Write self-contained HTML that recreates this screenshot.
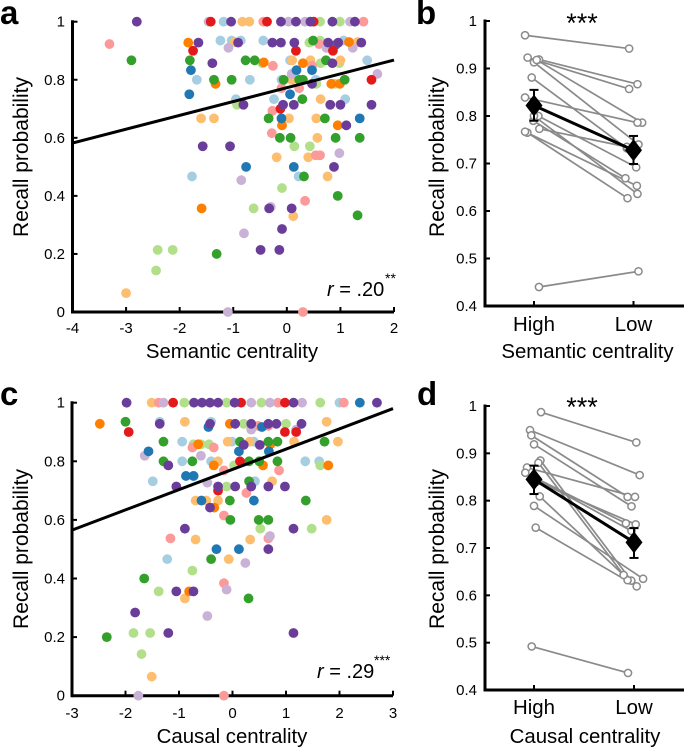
<!DOCTYPE html>
<html>
<head>
<meta charset="utf-8">
<title>Recall probability versus centrality</title>
<style>
html,body{margin:0;padding:0;background:#fff;}
svg{display:block;font-family:"Liberation Sans",Arial,sans-serif;}
</style>
</head>
<body>
<svg id="fig" xmlns="http://www.w3.org/2000/svg" width="685" height="748" viewBox="0 0 685 748">
  <text x="0" y="24" font-size="33" font-weight="bold">a</text>
  <text x="416" y="24" font-size="33" font-weight="bold">b</text>
  <text x="0" y="405" font-size="33" font-weight="bold">c</text>
  <text x="417" y="405" font-size="33" font-weight="bold">d</text>

  <text transform="translate(28,157) rotate(-90)" text-anchor="middle" font-size="21">Recall probability</text>
  <text x="232" y="358" text-anchor="middle" font-size="20.4">Semantic centrality</text>
  <text transform="translate(444,157) rotate(-90)" text-anchor="middle" font-size="21">Recall probability</text>
  <text x="587.5" y="358" text-anchor="middle" font-size="20.4">Semantic centrality</text>
  <text transform="translate(28,549) rotate(-90)" text-anchor="middle" font-size="21">Recall probability</text>
  <text x="232" y="743" text-anchor="middle" font-size="20.4">Causal centrality</text>
  <text transform="translate(444,549) rotate(-90)" text-anchor="middle" font-size="21">Recall probability</text>
  <text x="585" y="743" text-anchor="middle" font-size="20.4">Causal centrality</text>

  <text x="327" y="296" font-size="20"><tspan font-style="italic">r</tspan> = .20</text>
  <text x="385" y="283" font-size="14">**</text>
  <text x="317" y="678" font-size="20"><tspan font-style="italic">r</tspan> = .29</text>
  <text x="374" y="665" font-size="14">***</text>
  <text x="582" y="32" text-anchor="middle" font-size="27">***</text>
  <text x="582" y="416" text-anchor="middle" font-size="27">***</text>
</svg>
<script>
/* shared tick labels */
const yTicksScatter = [0, 0.2, 0.4, 0.6, 0.8, 1];
const xTicksA = [-4, -3, -2, -1, 0, 1, 2];
const xTicksC = [-3, -2, -1, 0, 1, 2, 3];
const yTicksPaired = [0.4, 0.5, 0.6, 0.7, 0.8, 0.9, 1];
const pairedCategoriesB = ['High', 'Low'];
const pairedCategoriesD = ['High', 'Low'];

/* series colours */
const colorNames = ['light-blue','light-green','light-orange','pink','light-purple','orange','blue','green','red','purple'];
const colorValues = ['#a6cee3','#b2df8a','#fdbf6f','#fb9a99','#cab2d6','#ff7f00','#1f78b4','#33a02c','#e31a1c','#6a3d9a'];

/* panel a: [semantic centrality, recall probability] */
const aLightBlue = [[-1.18,1],[-1.24,.935],[-1.03,.935],[-.86,.935],[-.44,.935],[1.06,.935],[.06,.867],[1.5,.867],[-1.68,.8],[-.69,.8],[-.1,.8],[.54,.8],[-.95,.733],[-.24,.733],[1.09,.733],[-1.77,.467],[.22,.467]];
const aLightGreen = [[.62,1],[.99,1],[.42,.928],[.62,.935],[-.46,.857],[.63,.857],[.98,.857],[.55,.786],[.9,.786],[-.93,.714],[.14,.571],[.43,.571],[-.09,.427],[-.62,.357],[-2.41,.214],[-2.13,.214],[-2.44,.143]];
const aLightOrange = [[-.83,1],[-.7,1],[1.32,.93],[-.97,.93],[.1,.867],[.44,.867],[1,.867],[.09,.8],[-1.6,.667],[-1.36,.667],[.04,.667],[.55,.667],[.63,.733],[.57,.6],[-.19,.533],[.4,.533],[.76,.467],[.12,.33],[-3,.065]];
const aPink = [[-3.31,.923],[-.44,1],[1.43,1],[.6,.923],[.47,.848],[-.26,.848],[.23,.771],[-.1,.771],[-.27,.693],[-.28,.616],[.54,.54],[.62,.54],[.34,.383],[.3,0]];
const aLightPurple = [[-1.46,1],[.03,1],[.34,1],[1.18,1],[-1.09,.91],[.74,.91],[1.23,.91],[.09,.82],[.98,.547],[-.85,.454],[-.3,.362],[-.8,.271],[-1.1,0],[1.69,.82]];
const aOrange = [[-1.84,.928],[1.16,.93],[.3,.857],[-.43,.86],[-1.33,.786],[.83,.786],[.99,.786],[-.09,.643],[.95,.643],[-1.59,.357]];
const aBlue = [[-1.79,.833],[-1.82,.75],[.18,.833],[.47,.833],[.06,.75],[-.1,.667],[1.36,.667],[-.76,.5],[.13,.5],[.91,.92]];
const aGreen = [[-2.9,.867],[-1.81,.867],[-.77,.867],[-.6,.867],[.73,.867],[.49,.935],[-1.36,.8],[-1.03,.8],[-.06,.8],[.23,.8],[.3,.8],[1.08,.8],[.29,.733],[-.34,.667],[.71,.667],[-.13,.6],[.07,.6],[.91,.6],[1.36,.6],[.32,.467],[.95,.4],[1.32,.333],[-1.31,.2]];
const aRed = [[-.37,1],[.5,1],[-1.42,1],[-1.75,.9],[.17,.9],[.86,.9],[1.58,.8],[-.12,.7]];
const aPurple = [[-2.8,1],[-1.04,1],[1.27,1],[.85,1],[.44,1],[.17,1],[-.11,1],[-1.65,.928],[-.91,.928],[-.27,.928],[-.11,.928],[.14,.928],[.77,.928],[.96,.928],[1.39,.928],[-1.39,.857],[.85,.857],[.47,.786],[-.81,.714],[-.07,.714],[.13,.714],[.81,.714],[1,.714],[1.58,.714],[1.11,.643],[-1.57,.571],[-1.06,.571],[.88,.5],[-.33,.357],[.09,.357],[-.09,.286],[-.49,.214],[-.14,.214]];
const aLineX = [-4, 2];
const aLineY = [.582, .868];

/* panel c: [causal centrality, recall probability] */
const cLightBlue = [[2,1],[-1.36,.935],[-.4,.935],[-.94,.867],[-.01,.867],[.4,.867],[-.94,.8],[-.4,.8],[1.36,.8],[1.62,.8],[-1.49,.732],[-.72,.75],[.42,.732],[-1.22,.466]];
const cLightGreen = [[-.9,1],[-.11,1],[.54,1],[1.64,1],[.21,.928],[1,.928],[-.73,.858],[-.59,.858],[-.44,.858],[.03,.786],[1.64,.786],[-.11,.714],[.52,.57],[1.48,.57],[-.75,.427],[-1.38,.356],[-1.85,.214],[-1.54,.214],[-1.7,.142]];
const cLightOrange = [[-1.51,1],[-.89,.935],[1.76,.935],[-.09,.867],[.32,.867],[1.15,.867],[1.97,.867],[-.27,.8],[.74,.732],[-.69,.666],[-.49,.666],[-.27,.666],[1.76,.6],[-.69,.533],[.33,.533],[-.07,.466],[-.89,.332],[-1.51,.065]];
const cPink = [[-1.38,1],[.85,1],[2.08,1],[.48,.921],[.67,.921],[-.75,.847],[-.35,.847],[-.16,.769],[.87,.769],[.26,.692],[-.16,.615],[-1.16,.537],[.67,.537],[-.16,.384],[-.16,0]];
const cLightPurple = [[-1.29,1],[.35,1],[.7,1],[1.3,1],[.35,.908],[1.19,.908],[-1.64,.819],[-.59,.819],[-.47,.727],[.7,.545],[.24,.453],[-.11,.362],[-.47,.272],[-1.76,0]];
const cOrange = [[-2.48,.928],[-.05,.928],[-.64,.858],[.71,.858],[-.35,.786],[.57,.786],[1.79,.786],[-.34,.642],[-.81,.356]];
const cBlue = [[-1.57,.834],[-.45,.917],[.55,.917],[.12,.834],[.68,.834],[-.87,.75],[-.73,.75],[-.58,.666],[.4,.666],[2.38,1],[-.3,.5],[.12,.5]];
const cGreen = [[-2,.935],[-1.29,.867],[.14,.867],[.67,.867],[.84,.867],[1.72,.867],[-1.29,.8],[-.75,.8],[.31,.8],[.5,.8],[.84,.8],[.31,.732],[-.05,.666],[1.37,.666],[-.04,.6],[.49,.6],[.67,.6],[-.4,.466],[-1.65,.4],[.3,.332],[-2.35,.2]];
const cRed = [[-1.11,1],[.16,1],[.98,1],[-1.94,.9],[.98,.9],[1.19,.9],[.14,.8],[-.27,.7]];
const cPurple = [[-1.98,1],[-.72,1],[-.57,1],[-.42,1],[-.27,1],[.04,1],[1.14,1],[2.7,1],[-1.36,.928],[-.42,.928],[.05,.928],[.35,.928],[.67,.928],[.82,.928],[1.29,.928],[.21,.856],[.51,.856],[-1.2,.786],[-1.05,.714],[-.27,.714],[.05,.714],[.35,.714],[.67,.714],[.98,.714],[-.42,.642],[-.89,.57],[1.14,.57],[.67,.5],[-1.82,.284],[-1.05,.356],[-.73,.356],[-1.2,.214],[1.14,.214]];
const cLineX = [-3, 3];
const cLineY = [.565, .98];

/* panel b: participants, High (category 0) and Low (category 1), with horizontal jitter in category units */
const bHighJitter = [-.09,.05,-.064,0,.027,-.023,-.09,-.007,.044,-.067,.054,-.09,0,.05];
const bHighValues = [.97,.919,.923,.913,.918,.881,.839,.79,.80,.765,.773,.767,.80,.44];
const bLowJitter = [.956,1.04,.956,1.05,1.087,.933,1.04,.919,1.027,.94,.933,1.034,1.04,1.05];
const bLowValues = [.942,.867,.857,.74,.786,.732,.786,.669,.692,.627,.735,.653,.636,.473];
const bMeans = [.822, .728];
const bErrorLow = [.79, .699];
const bErrorHigh = [.855, .758];

/* panel d */
const dHighJitter = [.07,-.04,-.027,0,-.07,-.087,.027,.064,.044,.057,0,.017,-.007,-.023];
const dHighValues = [.987,.949,.938,.919,.87,.859,.84,.885,.88,.809,.789,.743,.85,.492];
const dLowJitter = [1.023,1.057,.936,.975,1.01,.919,1.017,.973,.936,.896,1.091,1.027,.975,.94];
const dLowValues = [.923,.854,.808,.788,.808,.752,.75,.631,.632,.643,.635,.619,.736,.436];
const dMeans = [.845, .712];
const dErrorLow = [.814, .679];
const dErrorHigh = [.874, .742];

const aSeries = [aLightBlue,aLightGreen,aLightOrange,aPink,aLightPurple,aOrange,aBlue,aGreen,aRed,aPurple];
const cSeries = [cLightBlue,cLightGreen,cLightOrange,cPink,cLightPurple,cOrange,cBlue,cGreen,cRed,cPurple];

const NS = 'http://www.w3.org/2000/svg';
const fig = document.getElementById('fig');

function make(tag, name, props) {
  const el = document.createElementNS(NS, tag);
  
  
  for (const k in props) el.setAttribute(k, props[k]);
  fig.appendChild(el);
  return el;
}
function linear(d0, d1, r0, r1) {
  return function (v) { return r0 + (v - d0) / (d1 - d0) * (r1 - r0); };
}
function fmt(v) { return Number.isInteger(v) ? String(v) : v.toFixed(1); }

function drawAxes(id, L, R, T, B, sx, sy, xTicks, yTicks, xLabels, xLabelSize, xLabelY, yLabelX) {
  make('line', 'y-axis-' + id, {x1:L, x2:L, y1:T-1.5, y2:B+1.5, stroke:'#000', 'stroke-width':3});
  make('line', 'x-axis-' + id, {x1:L, x2:R, y1:B, y2:B, stroke:'#000', 'stroke-width':3});
  yTicks.forEach(function (t) {
    make('line', 'y-tick-' + id, {x1:L, x2:L+5, y1:sy(t), y2:sy(t), stroke:'#000', 'stroke-width':2});
    const lab = make('text', 'y-tick-label-' + id, {x:yLabelX, y:sy(t)+5, 'text-anchor':'end', 'font-size':15});
    lab.textContent = fmt(t);
  });
  xTicks.forEach(function (t, i) {
    make('line', 'x-tick-' + id, {x1:sx(t), x2:sx(t), y1:B, y2:B-5, stroke:'#000', 'stroke-width':2});
    const lab = make('text', 'x-tick-label-' + id, {x:sx(t), y:xLabelY, 'text-anchor':'middle', 'font-size':xLabelSize});
    lab.textContent = xLabels ? xLabels[i] : fmt(t);
  });
}

function drawScatter(id, series, lineX, lineY, sx, sy) {
  series.forEach(function (pts, c) {
    pts.forEach(function (p) {
      make('circle', id + '-point-' + colorNames[c], {cx:sx(p[0]), cy:sy(p[1]), r:4.9, fill:colorValues[c]});
    });
  });
  make('line', 'regression-line-' + id, {x1:sx(lineX[0]), y1:sy(lineY[0]), x2:sx(lineX[1]), y2:sy(lineY[1]), stroke:'#000', 'stroke-width':3});
}

function drawPaired(id, hj, hv, lj, lv, means, lo, hi, sx, sy) {
  hv.forEach(function (v, i) {
    make('line', id + '-participant-line', {x1:sx(hj[i]), y1:sy(v), x2:sx(lj[i]), y2:sy(lv[i]), stroke:'#8a8a8a', 'stroke-width':1.7});
  });
  hv.forEach(function (v, i) {
    make('circle', id + '-high-point', {cx:sx(hj[i]), cy:sy(v), r:3.6, fill:'#fff', stroke:'#8a8a8a', 'stroke-width':1.5});
    make('circle', id + '-low-point', {cx:sx(lj[i]), cy:sy(lv[i]), r:3.6, fill:'#fff', stroke:'#8a8a8a', 'stroke-width':1.5});
  });
  make('line', id + '-mean-line', {x1:sx(0), y1:sy(means[0]), x2:sx(1), y2:sy(means[1]), stroke:'#000', 'stroke-width':3});
  means.forEach(function (m, i) {
    const x = sx(i);
    make('line', id + '-error-bar', {x1:x, x2:x, y1:sy(lo[i]), y2:sy(hi[i]), stroke:'#000', 'stroke-width':2});
    make('line', id + '-error-cap', {x1:x-4.5, x2:x+4.5, y1:sy(lo[i]), y2:sy(lo[i]), stroke:'#000', 'stroke-width':2});
    make('line', id + '-error-cap', {x1:x-4.5, x2:x+4.5, y1:sy(hi[i]), y2:sy(hi[i]), stroke:'#000', 'stroke-width':2});
    const y = sy(m);
    make('polygon', id + '-mean-diamond', {points:(x-8.5)+','+y+' '+x+','+(y-11)+' '+(x+8.5)+','+y+' '+x+','+(y+11), fill:'#000'});
  });
}

/* panel a */
const axA = linear(-4, 2, 72.5, 394), ayA = linear(0, 1, 312, 21.7);
drawAxes('a', 72.5, 394, 21.7, 312, axA, ayA, xTicksA, yTicksScatter, null, 15, 333, 65);
drawScatter('a', aSeries, aLineX, aLineY, axA, ayA);

/* panel c */
const axC = linear(-3, 3, 72, 393), ayC = linear(0, 1, 695.7, 402.7);
drawAxes('c', 72, 393, 402.7, 695.7, axC, ayC, xTicksC, yTicksScatter, null, 15, 718, 65);
drawScatter('c', cSeries, cLineX, cLineY, axC, ayC);

/* panel b */
const axB = linear(0, 1, 534, 633.5), ayB = linear(0.4, 1, 306, 21);
drawAxes('b', 485, 684, 21, 306, axB, ayB, [0, 1], yTicksPaired, pairedCategoriesB, 20.4, 331, 477);
drawPaired('b', bHighJitter, bHighValues, bLowJitter, bLowValues, bMeans, bErrorLow, bErrorHigh, axB, ayB);

/* panel d */
const axD = linear(0, 1, 534, 634), ayD = linear(0.4, 1, 690, 406);
drawAxes('d', 485, 684, 406, 690, axD, ayD, [0, 1], yTicksPaired, pairedCategoriesD, 20.4, 714, 477);
drawPaired('d', dHighJitter, dHighValues, dLowJitter, dLowValues, dMeans, dErrorLow, dErrorHigh, axD, ayD);
</script>
</body>
</html>
